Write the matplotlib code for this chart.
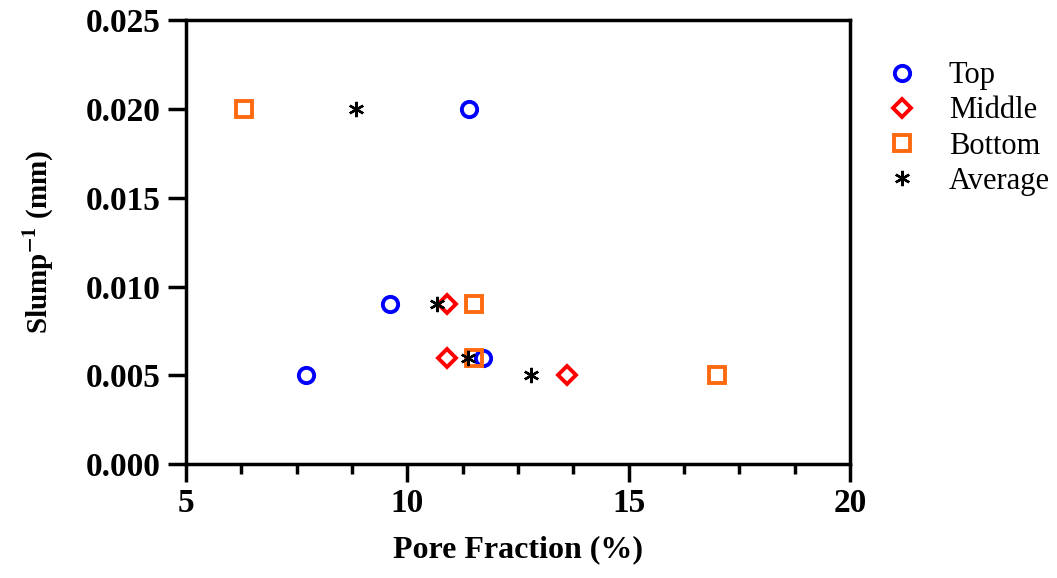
import numpy as np
import matplotlib
matplotlib.use("Agg")
import matplotlib.pyplot as plt
from matplotlib.ticker import MultipleLocator, FormatStrFormatter

# data
top_x = [7.7, 9.6, 11.4, 11.7]
top_y = [0.005, 0.009, 0.020, 0.006]
middle_x = [10.9, 10.9, 13.6]
middle_y = [0.009, 0.006, 0.005]
bottom_x = [6.3, 11.5, 11.5, 17.0]
bottom_y = [0.020, 0.009, 0.006, 0.005]
avg_x = [8.85, 10.67, 11.37, 12.8]
avg_y = [0.020, 0.009, 0.006, 0.005]

plt.rcParams['font.family'] = ['Liberation Serif', 'DejaVu Serif']
plt.rcParams['mathtext.fontset'] = 'stix'

fig = plt.figure(figsize=(10.57, 5.78), dpi=100)
ax = fig.add_axes([0.176, 0.197, 0.628, 0.768])

ms = 11
mew = 2.8
ax.plot(top_x, top_y, 'o', ls='none', ms=ms, mew=mew, mfc='none', mec='#0000FF', label='Top', clip_on=False)
ax.plot(middle_x, middle_y, 'D', ls='none', ms=ms*0.85, mew=mew, mfc='none', mec='#FF0000', label='Middle', clip_on=False)
ax.plot(bottom_x, bottom_y, 's', ls='none', ms=ms, mew=mew, mfc='none', mec='#FF6A10', label='Bottom', clip_on=False)
ax.plot(avg_x, avg_y, marker=(6, 2, 0), ls='none', ms=ms, mew=1.7, color='black', label='Average', clip_on=False)

ax.set_xlim(5, 20)
ax.set_ylim(0, 0.025)
ax.xaxis.set_major_locator(MultipleLocator(5))
ax.xaxis.set_minor_locator(MultipleLocator(1.25))
ax.yaxis.set_major_locator(MultipleLocator(0.005))
ax.yaxis.set_major_formatter(FormatStrFormatter('%.3f'))

for s in ax.spines.values():
    s.set_linewidth(2.5)
ax.tick_params(which='major', length=13, width=2.5, labelsize=24, pad=5)
ax.tick_params(which='minor', length=7.5, width=2.5)
ax.tick_params(axis='x', pad=4)
for lbl in ax.get_xticklabels() + ax.get_yticklabels():
    lbl.set_fontweight('bold')

ax.set_xlabel('Pore Fraction (%)', fontsize=23, fontweight='bold', labelpad=12)
ax.set_ylabel('Slump$^{\\mathbf{-1}}$ (mm)', fontsize=21, fontweight='bold', labelpad=22)

leg = ax.legend(loc='upper left', bbox_to_anchor=(1.025, 0.935), frameon=False,
                fontsize=22, handletextpad=0.8, labelspacing=0.2, borderaxespad=0,
                handlelength=1.5)

fig.savefig('out.png', dpi=100)
